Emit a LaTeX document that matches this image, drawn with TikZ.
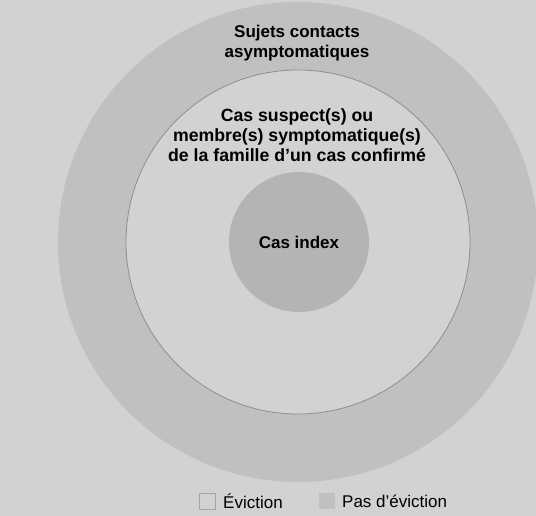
\documentclass[tikz,border=0pt]{standalone}
\usepackage{fontspec}
\setmainfont{Liberation Sans}
\definecolor{bg}{HTML}{D2D2D2}
\definecolor{ring}{HTML}{C0C0C0}
\definecolor{core}{HTML}{B4B4B4}
\definecolor{edge}{HTML}{8E8E8E}
\begin{document}
\begin{tikzpicture}[x=1pt,y=-1pt,
  lbl/.style={font=\fontsize{17}{20}\selectfont\bfseries, align=center, text=black},
  lblwide/.style={font=\fontsize{17.7}{19.8}\selectfont\bfseries, align=center, text=black},
  leg/.style={font=\fontsize{17}{20}\selectfont, anchor=west, text=black, inner sep=0pt},
  legbox/.style={minimum size=16pt, inner sep=0pt}]
\fill[bg] (0,0) rectangle (536,516);
\useasboundingbox (0,0) rectangle (536,516);
\begin{scope}
\clip (0,0) rectangle (536,516);
\fill[ring] (298,242) circle (240);
\end{scope}
\draw[edge, line width=0.8pt, fill=bg] (298,242) circle (172);
\fill[core] (299,242) circle (70);
\node[lbl] (outer) at (297,43) {Sujets contacts\\asymptomatiques};
\node[lblwide] (middle) at (297,135) {Cas suspect(s) ou\\membre(s) symptomatique(s)\\de la famille d’un cas confirmé};
\node[lbl] (index) at (299,242) {Cas index};
\node[legbox, draw=edge!80, line width=0.8pt, fill=bg] (b1) at (207,501) {};
\node[leg] (t1) at (223,501) {Éviction};
\node[legbox, fill=ring] (b2) at (326.5,501) {};
\node[leg] (t2) at (342,501) {Pas d’éviction};
\end{tikzpicture}
\end{document}
